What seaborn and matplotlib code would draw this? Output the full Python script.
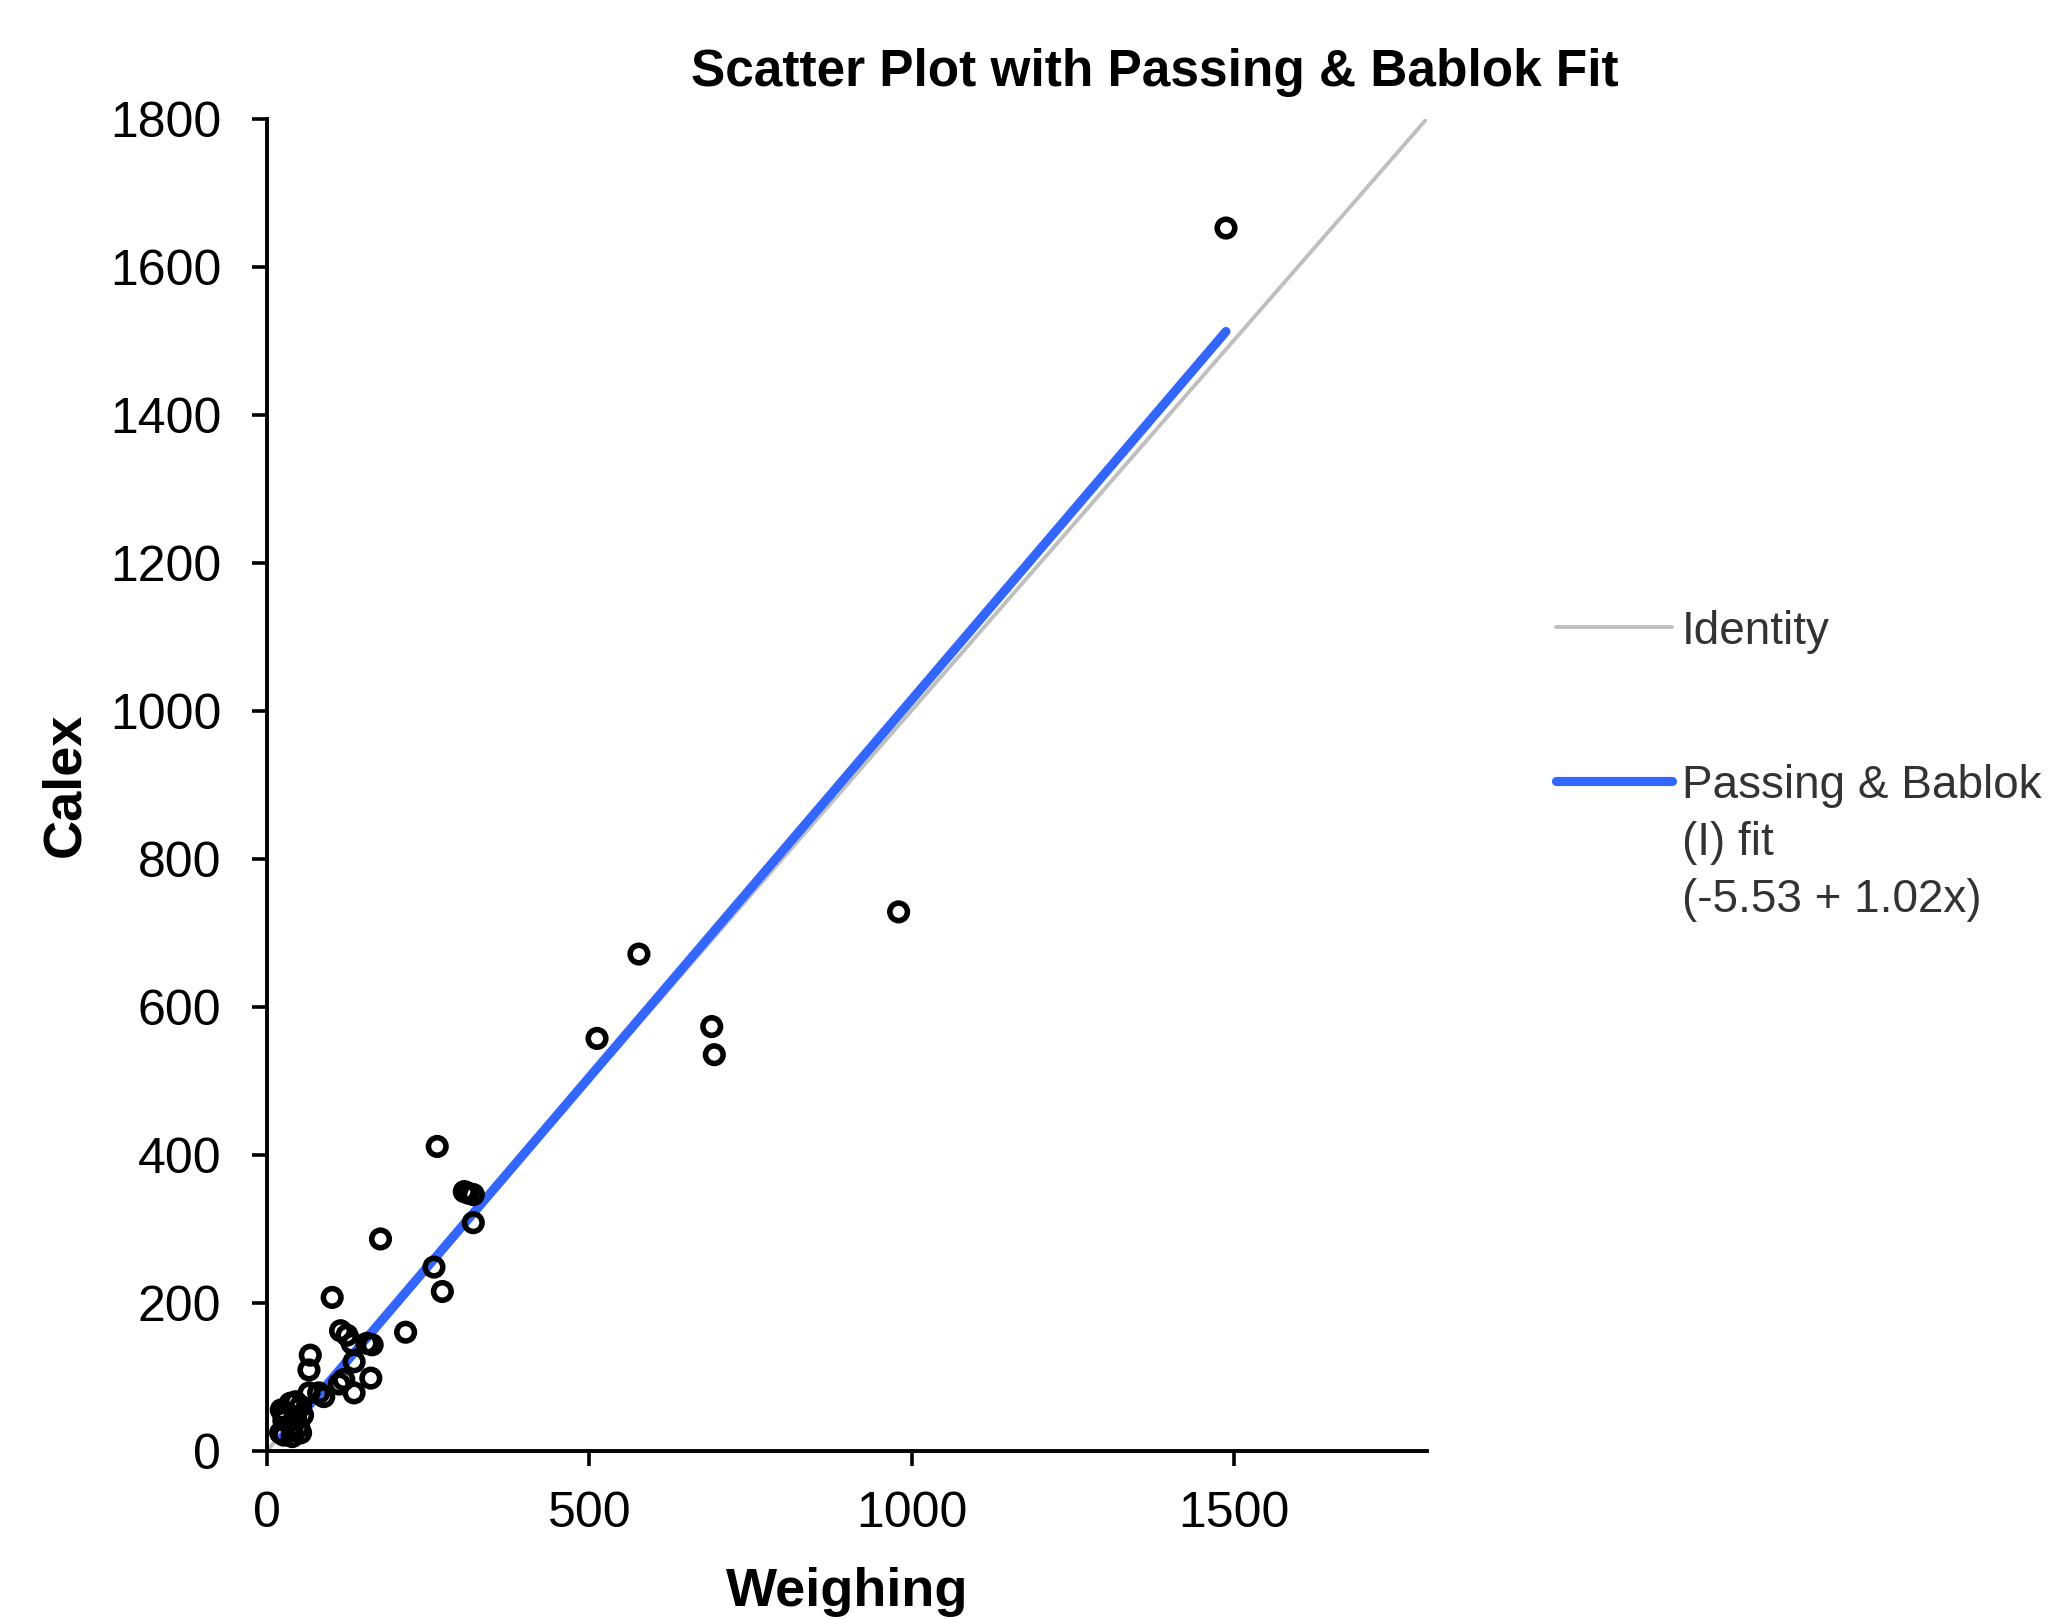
import matplotlib
matplotlib.use("Agg")
import matplotlib.pyplot as plt
from matplotlib.lines import Line2D
import seaborn as sns
import numpy as np

# ---- data ----
weighing = [1488, 980, 577, 512, 690, 694, 264, 306, 312, 320, 320, 176, 259, 272,
            101, 215, 114, 124, 132, 155, 163, 135, 67, 65, 161, 119, 112, 135, 88,
            80, 65, 36, 44, 52, 28, 44, 55, 26, 49, 26, 39, 52, 21, 39, 22]
calex = [1652, 728, 671, 557, 573, 535, 411, 350, 348, 346, 308, 286, 248, 215,
         207, 160, 162, 156, 145, 145, 143, 120, 129, 109, 98, 96, 90, 78, 73,
         78, 78, 64, 66, 60, 50, 46, 48, 41, 32, 21, 19, 24, 24, 32, 55]
pb_intercept = -5.53
pb_slope = 1.02
identity_range = [0, 1800]
x_ticks = [0, 500, 1000, 1500]
y_ticks = [0, 200, 400, 600, 800, 1000, 1200, 1400, 1600, 1800]
title = "Scatter Plot with Passing & Bablok Fit"
x_label = "Weighing"
y_label = "Calex"
legend_labels = ["Identity", "Passing & Bablok\n(I) fit\n(-5.53 + 1.02x)"]

ID_COLOR = "#bfbfbf"
PB_COLOR = "#3366ff"

# ---- style ----
sns.set_theme(style="ticks")
plt.rcParams["font.family"] = ["Liberation Sans", "DejaVu Sans"]
plt.rcParams["text.color"] = "black"

fig = plt.figure(figsize=(10.32, 8.095), dpi=200)
ax = fig.add_axes([0.1294, 0.104, 0.5620, 0.8228])

# identity line
sns.lineplot(x=identity_range, y=identity_range, ax=ax, color=ID_COLOR,
             linewidth=1.4, zorder=1)
# Passing & Bablok fit line
fx = np.array([min(weighing), max(weighing)], dtype=float)
fy = pb_intercept + pb_slope * fx
sns.lineplot(x=fx, y=fy, ax=ax, color=PB_COLOR, linewidth=3.3,
             zorder=2, solid_capstyle="round")
# points
sns.scatterplot(x=weighing, y=calex, ax=ax, marker="o", s=40,
                facecolors="none", edgecolor="black", linewidth=2.0, zorder=3)

ax.set_xlim(0, 1800)
ax.set_ylim(0, 1800)
ax.set_xticks(x_ticks)
ax.set_yticks(y_ticks)
sns.despine(ax=ax)
for s in ["left", "bottom"]:
    ax.spines[s].set_linewidth(1.4)
    ax.spines[s].set_color("black")
ax.tick_params(axis="both", direction="out", length=5.5, width=1.3,
               colors="black", labelsize=18)
ax.tick_params(axis="y", pad=11)
ax.tick_params(axis="x", pad=9)

ax.set_xlabel(x_label, fontsize=19.5, fontweight="bold", labelpad=11, color="black")
ax.set_ylabel(y_label, fontsize=19.5, fontweight="bold", labelpad=7, color="black")
fig.text(0.5596, 0.955, title, fontsize=18.5, fontweight="bold",
         ha="center", va="center", color="black")

# ---- legend (drawn outside the axes, handle aligned with first label line) ----
leg_x0, leg_x1, txt_x = 0.7539, 0.8101, 0.8149
line_step = 57 / 1619
entries = [(legend_labels[0], ID_COLOR, 1.4, 0.6127),
           (legend_labels[1], PB_COLOR, 3.3, 0.5176)]
for label, col, lw, yc in entries:
    fig.add_artist(Line2D([leg_x0, leg_x1], [yc, yc], transform=fig.transFigure,
                          color=col, linewidth=lw, solid_capstyle="round"))
    for i, line in enumerate(label.split("\n")):
        fig.text(txt_x, yc - i * line_step, line, fontsize=16.5, color="#333333",
                 ha="left", va="center_baseline")

fig.savefig("out.png", dpi=200)
